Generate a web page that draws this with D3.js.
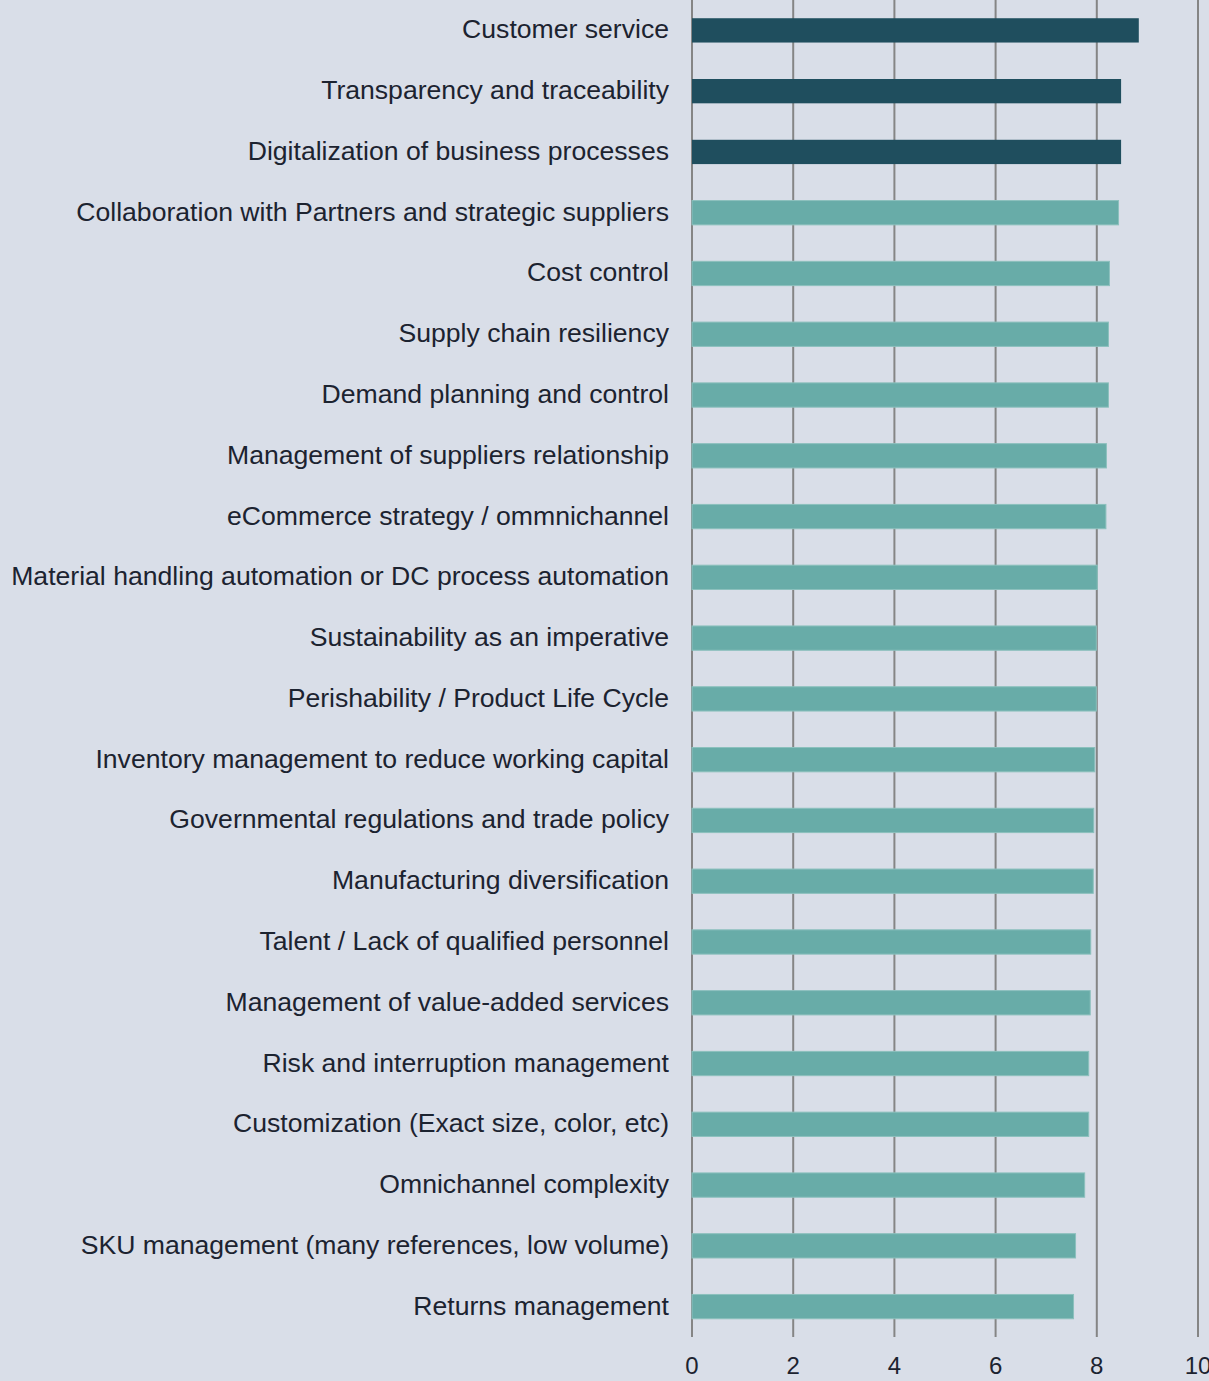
<!DOCTYPE html>
<html>
<head>
<meta charset="utf-8">
<script src="https://cdn.jsdelivr.net/npm/d3@7"></script>
<style>
  html, body { margin: 0; padding: 0; background: #d9dee8; }
  svg { display: block; }
</style>
</head>
<body>
<svg id="chart" width="1209" height="1381"></svg>
<script>
// Priority areas, ordered from highest to lowest average score
const categories = [
  "Customer service",
  "Transparency and traceability",
  "Digitalization of business processes",
  "Collaboration with Partners and strategic suppliers",
  "Cost control",
  "Supply chain resiliency",
  "Demand planning and control",
  "Management of suppliers relationship",
  "eCommerce strategy / ommnichannel",
  "Material handling automation or DC process automation",
  "Sustainability as an imperative",
  "Perishability / Product Life Cycle",
  "Inventory management to reduce working capital",
  "Governmental regulations and trade policy",
  "Manufacturing diversification",
  "Talent / Lack of qualified personnel",
  "Management of value-added services",
  "Risk and interruption management",
  "Customization (Exact size, color, etc)",
  "Omnichannel complexity",
  "SKU management (many references, low volume)",
  "Returns management"
];
const scores = [
  8.83, 8.48, 8.48, 8.43, 8.25, 8.23, 8.23, 8.19, 8.18, 8.01, 7.99,
  7.99, 7.96, 7.94, 7.93, 7.88, 7.87, 7.84, 7.84, 7.76, 7.58, 7.54
];
const topCount = 3; // first three are highlighted
const xTicks = [0, 2, 4, 6, 8, 10];

const svg = d3.select("#chart");
const plot = { left: 692, right: 1198, top: 0, bottom: 1337 };

const x = d3.scaleLinear().domain([0, 10]).range([plot.left, plot.right]);
const y = d3.scaleBand().domain(categories).range([plot.top, plot.bottom]).paddingInner(0.6).paddingOuter(0.3);

// vertical gridlines
svg.append("g").selectAll("line").data(xTicks).join("line")
  .attr("x1", d => x(d)).attr("x2", d => x(d))
  .attr("y1", plot.top).attr("y2", plot.bottom)
  .attr("stroke", "#858585").attr("stroke-width", 2);

// bars
svg.append("g").selectAll("rect").data(categories).join("rect")
  .attr("x", x(0))
  .attr("y", d => y(d))
  .attr("width", (d, i) => x(scores[i]) - x(0))
  .attr("height", y.bandwidth())
  .attr("fill", (d, i) => i < topCount ? "#1f4e5e" : "#68aca8")
  .attr("stroke", (d, i) => i < topCount ? "none" : "#8cc0bd")
  .attr("stroke-width", 1);

// category labels
svg.append("g").selectAll("text").data(categories).join("text")
  .attr("x", 669)
  .attr("y", d => y(d) + y.bandwidth() / 2)
  .attr("dy", "0.3em")
  .attr("text-anchor", "end")
  .attr("font-family", "Arial, 'Liberation Sans', sans-serif")
  .attr("font-size", 26.6)
  .attr("fill", "#1c2330")
  .text(d => d);

// x axis tick labels
svg.append("g").selectAll("text").data(xTicks).join("text")
  .attr("x", d => x(d))
  .attr("y", 1366)
  .attr("dy", "0.35em")
  .attr("text-anchor", "middle")
  .attr("font-family", "Arial, 'Liberation Sans', sans-serif")
  .attr("font-size", 24)
  .attr("fill", "#1c2330")
  .text(d => d);
</script>
</body>
</html>
